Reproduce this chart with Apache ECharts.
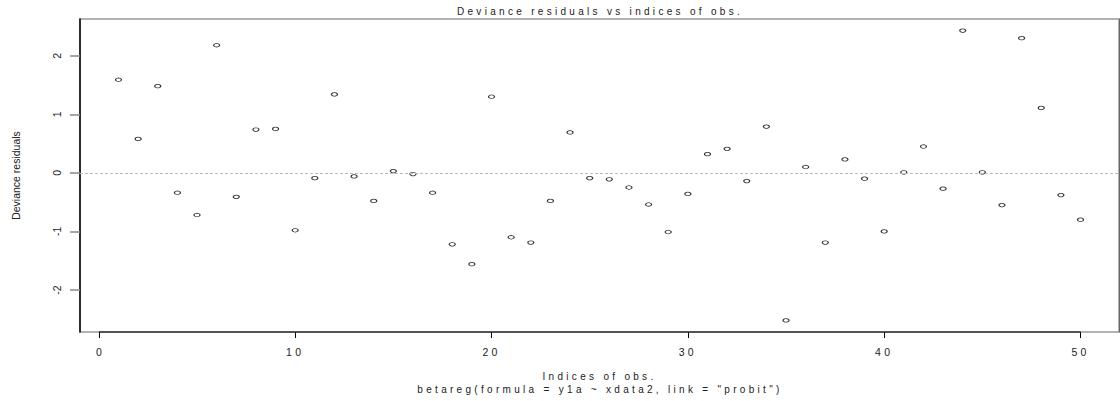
<!DOCTYPE html>
<html>
<head>
<meta charset="utf-8">
<script src="https://cdn.jsdelivr.net/npm/echarts@6/dist/echarts.min.js"></script>
<style>
  html, body { margin: 0; padding: 0; background: #fff; }
  #chart { width: 1120px; height: 401px; }
  /* R-style device text is drawn with wide tracking */
  #chart svg text { letter-spacing: 3.3px; }
</style>
</head>
<body>
<div id="chart"></div>
<script>
// Deviance residuals of a beta regression fit, one per observation
const residuals = [
  1.59, 0.58, 1.48, -0.34, -0.72, 2.18, -0.41, 0.74, 0.75, -0.98,
  -0.09, 1.34, -0.06, -0.48, 0.03, -0.02, -0.34, -1.22, -1.56, 1.30,
  -1.10, -1.19, -0.48, 0.69, -0.09, -0.11, -0.25, -0.54, -1.01, -0.36,
  0.32, 0.41, -0.14, 0.79, -2.52, 0.10, -1.19, 0.23, -0.10, -1.00,
  0.01, 0.45, -0.27, 2.43, 0.01, -0.55, 2.30, 1.11, -0.38, -0.80
];
const xTicks = [0, 10, 20, 30, 40, 50];
const yTicks = [-2, -1, 0, 1, 2];

const titleText = 'Deviance residuals vs indices of obs.';
const xName = 'Indices of obs.';
const yName = 'Deviance residuals';
const subText = 'betareg(formula = y1a ~ xdata2, link = "probit")';

// observation index on x, residual on y
const points = residuals.map((v, i) => [i + 1, v]);

// R's default axis extension: 4% beyond the data range on each side
const nObs = residuals.length;
const xMin = 1 - 0.04 * (nObs - 1);
const xMax = nObs + 0.04 * (nObs - 1);
const rMin = Math.min(...residuals), rMax = Math.max(...residuals);
const yMin = rMin - 0.04 * (rMax - rMin);
const yMax = rMax + 0.04 * (rMax - rMin);

const FONT = '"Liberation Sans", Arial, Helvetica, sans-serif';
const INK = '#222';

const chart = echarts.init(document.getElementById('chart'), null, { renderer: 'svg' });

chart.setOption({
  animation: false,
  backgroundColor: '#fff',
  textStyle: { fontFamily: FONT, color: INK },
  title: [
    {
      text: titleText,
      left: 600, top: 6, textAlign: 'center', padding: 0,
      textStyle: { fontSize: 10, fontWeight: 'normal', color: INK, fontFamily: FONT }
    },
    {
      text: subText,
      left: 600, top: 384, textAlign: 'center', padding: 0,
      textStyle: { fontSize: 10, fontWeight: 'normal', color: INK, fontFamily: FONT }
    }
  ],
  grid: {
    left: 80, right: 1, top: 19, bottom: 69,
    show: true, borderColor: '#999', borderWidth: 1.5, backgroundColor: 'transparent'
  },
  xAxis: {
    type: 'value', min: xMin, max: xMax,
    name: xName, nameLocation: 'middle', nameGap: 39,
    nameTextStyle: { fontSize: 10, color: INK, fontFamily: FONT },
    axisLine: { show: false, onZero: false },
    axisTick: { show: true, length: 6, customValues: xTicks, lineStyle: { color: '#000', width: 1 } },
    axisLabel: {
      customValues: xTicks, margin: 14, fontSize: 10.5, color: INK, fontFamily: FONT,
      formatter: v => String(v)
    },
    splitLine: { show: false }
  },
  yAxis: [
    {
      type: 'value', min: yMin, max: yMax,
      name: yName, nameLocation: 'middle', nameGap: 59,
      nameTextStyle: { fontSize: 10.5, color: INK, fontFamily: FONT },
      axisLine: { show: true, onZero: false, lineStyle: { color: '#000', width: 1.5 } },
      axisTick: { show: true, length: 10, customValues: yTicks, lineStyle: { color: '#888', width: 1.5 } },
      axisLabel: {
        customValues: yTicks, rotate: 90, margin: 18, fontSize: 10.5, color: INK, fontFamily: FONT,
        formatter: v => String(v)
      },
      splitLine: { show: false }
    },
    {
      type: 'value', min: yMin, max: yMax, position: 'right',
      axisLine: { show: true, onZero: false, lineStyle: { color: '#666', width: 1 } },
      axisTick: { show: false }, axisLabel: { show: false }, splitLine: { show: false }
    }
  ],
  series: [
    {
      type: 'scatter',
      data: points,
      symbol: 'circle',
      symbolSize: [6, 3.5],
      itemStyle: { color: '#fff', borderColor: '#000', borderWidth: 1 },
      emphasis: { disabled: true },
      clip: false,
      markLine: {
        silent: true, symbol: 'none', animation: false,
        label: { show: false },
        data: [
          // reference line at zero
          { yAxis: 0, lineStyle: { color: '#bbb', width: 1, type: [3, 2] } },
          // x axis line spanning first to last tick
          [
            { coord: [xTicks[0], yMin], lineStyle: { color: '#333', width: 1.5, type: 'solid' } },
            { coord: [xTicks[xTicks.length - 1], yMin] }
          ]
        ]
      }
    }
  ]
});

// the y axis title and tick labels use normal tracking
function untrack() {
  const plain = new Set([yName].concat(yTicks.map(String)));
  document.querySelectorAll('#chart svg text').forEach(t => {
    if (plain.has(t.textContent.trim())) t.style.letterSpacing = '0px';
  });
}
chart.on('finished', untrack);
untrack();
</script>
</body>
</html>
